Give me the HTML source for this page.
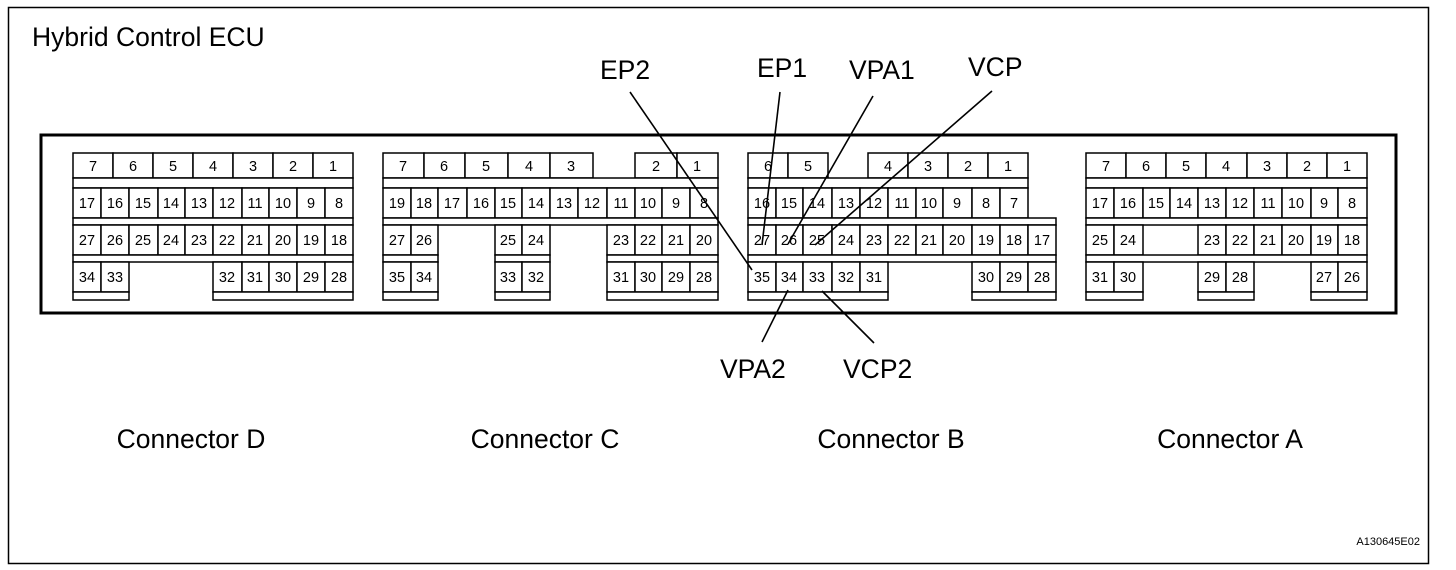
<!DOCTYPE html>
<html><head><meta charset="utf-8"><style>
html,body{margin:0;padding:0;background:#fff}
svg{display:block}
text{font-family:"Liberation Sans",Arial,sans-serif;fill:#000}
.n{font-size:14.5px;text-anchor:middle}
</style></head><body>
<svg width="1456" height="570" viewBox="0 0 1456 570" xmlns="http://www.w3.org/2000/svg">
<rect x="8.5" y="7.5" width="1420" height="556" fill="none" stroke="#000" stroke-width="1.5"/>
<text x="32" y="46" font-size="26.5">Hybrid Control ECU</text>
<rect x="41" y="135" width="1355" height="178" fill="none" stroke="#000" stroke-width="3"/>
<g fill="#fff" stroke="#000" stroke-width="1.5">
<!-- D -->
<rect x="73" y="153" width="40" height="25"/><rect x="113" y="153" width="40" height="25"/><rect x="153" y="153" width="40" height="25"/><rect x="193" y="153" width="40" height="25"/><rect x="233" y="153" width="40" height="25"/><rect x="273" y="153" width="40" height="25"/><rect x="313" y="153" width="40" height="25"/>
<rect x="73" y="178" width="280" height="10"/>
<rect x="73" y="188" width="28" height="30"/><rect x="101" y="188" width="28" height="30"/><rect x="129" y="188" width="29" height="30"/><rect x="158" y="188" width="27" height="30"/><rect x="185" y="188" width="28" height="30"/><rect x="213" y="188" width="29" height="30"/><rect x="242" y="188" width="27" height="30"/><rect x="269" y="188" width="28" height="30"/><rect x="297" y="188" width="28" height="30"/><rect x="325" y="188" width="28" height="30"/>
<rect x="73" y="218" width="280" height="7"/>
<rect x="73" y="225" width="28" height="30"/><rect x="101" y="225" width="28" height="30"/><rect x="129" y="225" width="29" height="30"/><rect x="158" y="225" width="27" height="30"/><rect x="185" y="225" width="28" height="30"/><rect x="213" y="225" width="29" height="30"/><rect x="242" y="225" width="27" height="30"/><rect x="269" y="225" width="28" height="30"/><rect x="297" y="225" width="28" height="30"/><rect x="325" y="225" width="28" height="30"/>
<rect x="73" y="255" width="280" height="7"/>
<rect x="73" y="262" width="28" height="30"/><rect x="101" y="262" width="28" height="30"/>
<rect x="213" y="262" width="29" height="30"/><rect x="242" y="262" width="27" height="30"/><rect x="269" y="262" width="28" height="30"/><rect x="297" y="262" width="28" height="30"/><rect x="325" y="262" width="28" height="30"/>
<rect x="73" y="292" width="56" height="8"/><rect x="213" y="292" width="140" height="8"/>
<!-- C -->
<rect x="383" y="153" width="41" height="25"/><rect x="424" y="153" width="41" height="25"/><rect x="465" y="153" width="43" height="25"/><rect x="508" y="153" width="42" height="25"/><rect x="550" y="153" width="43" height="25"/><rect x="635" y="153" width="42" height="25"/><rect x="677" y="153" width="41" height="25"/>
<rect x="383" y="178" width="335" height="10"/>
<rect x="383" y="188" width="28" height="30"/><rect x="411" y="188" width="27" height="30"/><rect x="438" y="188" width="29" height="30"/><rect x="467" y="188" width="28" height="30"/><rect x="495" y="188" width="27" height="30"/><rect x="522" y="188" width="28" height="30"/><rect x="550" y="188" width="28" height="30"/><rect x="578" y="188" width="29" height="30"/><rect x="607" y="188" width="28" height="30"/><rect x="635" y="188" width="27" height="30"/><rect x="662" y="188" width="28" height="30"/><rect x="690" y="188" width="28" height="30"/>
<rect x="383" y="218" width="335" height="7"/>
<rect x="383" y="225" width="28" height="30"/><rect x="411" y="225" width="27" height="30"/>
<rect x="495" y="225" width="27" height="30"/><rect x="522" y="225" width="28" height="30"/>
<rect x="607" y="225" width="28" height="30"/><rect x="635" y="225" width="27" height="30"/><rect x="662" y="225" width="28" height="30"/><rect x="690" y="225" width="28" height="30"/>
<rect x="383" y="255" width="55" height="7"/><rect x="495" y="255" width="55" height="7"/><rect x="607" y="255" width="111" height="7"/>
<rect x="383" y="262" width="28" height="30"/><rect x="411" y="262" width="27" height="30"/>
<rect x="495" y="262" width="27" height="30"/><rect x="522" y="262" width="28" height="30"/>
<rect x="607" y="262" width="28" height="30"/><rect x="635" y="262" width="27" height="30"/><rect x="662" y="262" width="28" height="30"/><rect x="690" y="262" width="28" height="30"/>
<rect x="383" y="292" width="55" height="8"/><rect x="495" y="292" width="55" height="8"/><rect x="607" y="292" width="111" height="8"/>
<!-- B -->
<rect x="748" y="153" width="40" height="25"/><rect x="788" y="153" width="40" height="25"/><rect x="868" y="153" width="40" height="25"/><rect x="908" y="153" width="40" height="25"/><rect x="948" y="153" width="40" height="25"/><rect x="988" y="153" width="40" height="25"/>
<rect x="748" y="178" width="280" height="10"/>
<rect x="748" y="188" width="28" height="30"/><rect x="776" y="188" width="27" height="30"/><rect x="803" y="188" width="29" height="30"/><rect x="832" y="188" width="28" height="30"/><rect x="860" y="188" width="28" height="30"/><rect x="888" y="188" width="28" height="30"/><rect x="916" y="188" width="27" height="30"/><rect x="943" y="188" width="29" height="30"/><rect x="972" y="188" width="28" height="30"/><rect x="1000" y="188" width="28" height="30"/>
<rect x="748" y="218" width="308" height="7"/>
<rect x="748" y="225" width="28" height="30"/><rect x="776" y="225" width="27" height="30"/><rect x="803" y="225" width="29" height="30"/><rect x="832" y="225" width="28" height="30"/><rect x="860" y="225" width="28" height="30"/><rect x="888" y="225" width="28" height="30"/><rect x="916" y="225" width="27" height="30"/><rect x="943" y="225" width="29" height="30"/><rect x="972" y="225" width="28" height="30"/><rect x="1000" y="225" width="28" height="30"/><rect x="1028" y="225" width="28" height="30"/>
<rect x="748" y="255" width="308" height="7"/>
<rect x="748" y="262" width="28" height="30"/><rect x="776" y="262" width="27" height="30"/><rect x="803" y="262" width="29" height="30"/><rect x="832" y="262" width="28" height="30"/><rect x="860" y="262" width="28" height="30"/>
<rect x="972" y="262" width="28" height="30"/><rect x="1000" y="262" width="28" height="30"/><rect x="1028" y="262" width="28" height="30"/>
<rect x="748" y="292" width="140" height="8"/><rect x="972" y="292" width="84" height="8"/>
<!-- A -->
<rect x="1086" y="153" width="40" height="25"/><rect x="1126" y="153" width="40" height="25"/><rect x="1166" y="153" width="40" height="25"/><rect x="1206" y="153" width="41" height="25"/><rect x="1247" y="153" width="40" height="25"/><rect x="1287" y="153" width="40" height="25"/><rect x="1327" y="153" width="40" height="25"/>
<rect x="1086" y="178" width="281" height="10"/>
<rect x="1086" y="188" width="28" height="30"/><rect x="1114" y="188" width="29" height="30"/><rect x="1143" y="188" width="27" height="30"/><rect x="1170" y="188" width="28" height="30"/><rect x="1198" y="188" width="28" height="30"/><rect x="1226" y="188" width="28" height="30"/><rect x="1254" y="188" width="28" height="30"/><rect x="1282" y="188" width="29" height="30"/><rect x="1311" y="188" width="27" height="30"/><rect x="1338" y="188" width="29" height="30"/>
<rect x="1086" y="218" width="281" height="7"/>
<rect x="1086" y="225" width="28" height="30"/><rect x="1114" y="225" width="29" height="30"/>
<rect x="1198" y="225" width="28" height="30"/><rect x="1226" y="225" width="28" height="30"/><rect x="1254" y="225" width="28" height="30"/><rect x="1282" y="225" width="29" height="30"/><rect x="1311" y="225" width="27" height="30"/><rect x="1338" y="225" width="29" height="30"/>
<rect x="1086" y="255" width="281" height="7"/>
<rect x="1086" y="262" width="28" height="30"/><rect x="1114" y="262" width="29" height="30"/>
<rect x="1198" y="262" width="28" height="30"/><rect x="1226" y="262" width="28" height="30"/>
<rect x="1311" y="262" width="27" height="30"/><rect x="1338" y="262" width="29" height="30"/>
<rect x="1086" y="292" width="57" height="8"/><rect x="1198" y="292" width="56" height="8"/><rect x="1311" y="292" width="56" height="8"/>
</g>
<g class="n">
<!-- D -->
<text x="93" y="171" class="n">7</text><text x="133" y="171" class="n">6</text><text x="173" y="171" class="n">5</text><text x="213" y="171" class="n">4</text><text x="253" y="171" class="n">3</text><text x="293" y="171" class="n">2</text><text x="333" y="171" class="n">1</text>
<text x="87" y="208" class="n">17</text><text x="115" y="208" class="n">16</text><text x="143" y="208" class="n">15</text><text x="171" y="208" class="n">14</text><text x="199" y="208" class="n">13</text><text x="227" y="208" class="n">12</text><text x="255" y="208" class="n">11</text><text x="283" y="208" class="n">10</text><text x="311" y="208" class="n">9</text><text x="339" y="208" class="n">8</text>
<text x="87" y="245" class="n">27</text><text x="115" y="245" class="n">26</text><text x="143" y="245" class="n">25</text><text x="171" y="245" class="n">24</text><text x="199" y="245" class="n">23</text><text x="227" y="245" class="n">22</text><text x="255" y="245" class="n">21</text><text x="283" y="245" class="n">20</text><text x="311" y="245" class="n">19</text><text x="339" y="245" class="n">18</text>
<text x="87" y="282" class="n">34</text><text x="115" y="282" class="n">33</text><text x="227" y="282" class="n">32</text><text x="255" y="282" class="n">31</text><text x="283" y="282" class="n">30</text><text x="311" y="282" class="n">29</text><text x="339" y="282" class="n">28</text>
<!-- C -->
<text x="403" y="171" class="n">7</text><text x="444" y="171" class="n">6</text><text x="486" y="171" class="n">5</text><text x="529" y="171" class="n">4</text><text x="571" y="171" class="n">3</text><text x="656" y="171" class="n">2</text><text x="697" y="171" class="n">1</text>
<text x="397" y="208" class="n">19</text><text x="424" y="208" class="n">18</text><text x="452" y="208" class="n">17</text><text x="481" y="208" class="n">16</text><text x="508" y="208" class="n">15</text><text x="536" y="208" class="n">14</text><text x="564" y="208" class="n">13</text><text x="592" y="208" class="n">12</text><text x="621" y="208" class="n">11</text><text x="648" y="208" class="n">10</text><text x="676" y="208" class="n">9</text><text x="704" y="208" class="n">8</text>
<text x="397" y="245" class="n">27</text><text x="424" y="245" class="n">26</text><text x="508" y="245" class="n">25</text><text x="536" y="245" class="n">24</text><text x="621" y="245" class="n">23</text><text x="648" y="245" class="n">22</text><text x="676" y="245" class="n">21</text><text x="704" y="245" class="n">20</text>
<text x="397" y="282" class="n">35</text><text x="424" y="282" class="n">34</text><text x="508" y="282" class="n">33</text><text x="536" y="282" class="n">32</text><text x="621" y="282" class="n">31</text><text x="648" y="282" class="n">30</text><text x="676" y="282" class="n">29</text><text x="704" y="282" class="n">28</text>
<!-- B -->
<text x="768" y="171" class="n">6</text><text x="808" y="171" class="n">5</text><text x="888" y="171" class="n">4</text><text x="928" y="171" class="n">3</text><text x="968" y="171" class="n">2</text><text x="1008" y="171" class="n">1</text>
<text x="762" y="208" class="n">16</text><text x="789" y="208" class="n">15</text><text x="817" y="208" class="n">14</text><text x="846" y="208" class="n">13</text><text x="874" y="208" class="n">12</text><text x="902" y="208" class="n">11</text><text x="929" y="208" class="n">10</text><text x="957" y="208" class="n">9</text><text x="986" y="208" class="n">8</text><text x="1014" y="208" class="n">7</text>
<text x="762" y="245" class="n">27</text><text x="789" y="245" class="n">26</text><text x="817" y="245" class="n">25</text><text x="846" y="245" class="n">24</text><text x="874" y="245" class="n">23</text><text x="902" y="245" class="n">22</text><text x="929" y="245" class="n">21</text><text x="957" y="245" class="n">20</text><text x="986" y="245" class="n">19</text><text x="1014" y="245" class="n">18</text><text x="1042" y="245" class="n">17</text>
<text x="762" y="282" class="n">35</text><text x="789" y="282" class="n">34</text><text x="817" y="282" class="n">33</text><text x="846" y="282" class="n">32</text><text x="874" y="282" class="n">31</text><text x="986" y="282" class="n">30</text><text x="1014" y="282" class="n">29</text><text x="1042" y="282" class="n">28</text>
<!-- A -->
<text x="1106" y="171" class="n">7</text><text x="1146" y="171" class="n">6</text><text x="1186" y="171" class="n">5</text><text x="1226" y="171" class="n">4</text><text x="1267" y="171" class="n">3</text><text x="1307" y="171" class="n">2</text><text x="1347" y="171" class="n">1</text>
<text x="1100" y="208" class="n">17</text><text x="1128" y="208" class="n">16</text><text x="1156" y="208" class="n">15</text><text x="1184" y="208" class="n">14</text><text x="1212" y="208" class="n">13</text><text x="1240" y="208" class="n">12</text><text x="1268" y="208" class="n">11</text><text x="1296" y="208" class="n">10</text><text x="1324" y="208" class="n">9</text><text x="1352" y="208" class="n">8</text>
<text x="1100" y="245" class="n">25</text><text x="1128" y="245" class="n">24</text><text x="1212" y="245" class="n">23</text><text x="1240" y="245" class="n">22</text><text x="1268" y="245" class="n">21</text><text x="1296" y="245" class="n">20</text><text x="1324" y="245" class="n">19</text><text x="1352" y="245" class="n">18</text>
<text x="1100" y="282" class="n">31</text><text x="1128" y="282" class="n">30</text><text x="1212" y="282" class="n">29</text><text x="1240" y="282" class="n">28</text><text x="1324" y="282" class="n">27</text><text x="1352" y="282" class="n">26</text>
</g>
<g stroke="#000" stroke-width="1.6">
<line x1="630" y1="92" x2="752" y2="270"/>
<line x1="780" y1="92" x2="762" y2="245"/>
<line x1="873" y1="96" x2="788" y2="244"/>
<line x1="992" y1="91" x2="815" y2="245"/>
<line x1="762" y1="342" x2="788" y2="290"/>
<line x1="874" y1="343" x2="822" y2="291"/>
</g>
<g font-size="26.5">
<text x="600" y="79">EP2</text>
<text x="757" y="77">EP1</text>
<text x="849" y="79">VPA1</text>
<text x="968" y="76">VCP</text>
<text x="720" y="378">VPA2</text>
<text x="843" y="378">VCP2</text>
<text x="191" y="448" text-anchor="middle">Connector D</text>
<text x="545" y="448" text-anchor="middle">Connector C</text>
<text x="891" y="448" text-anchor="middle">Connector B</text>
<text x="1230" y="448" text-anchor="middle">Connector A</text>
</g>
<text x="1420" y="545" font-size="11" text-anchor="end">A130645E02</text>
</svg>
</body></html>
